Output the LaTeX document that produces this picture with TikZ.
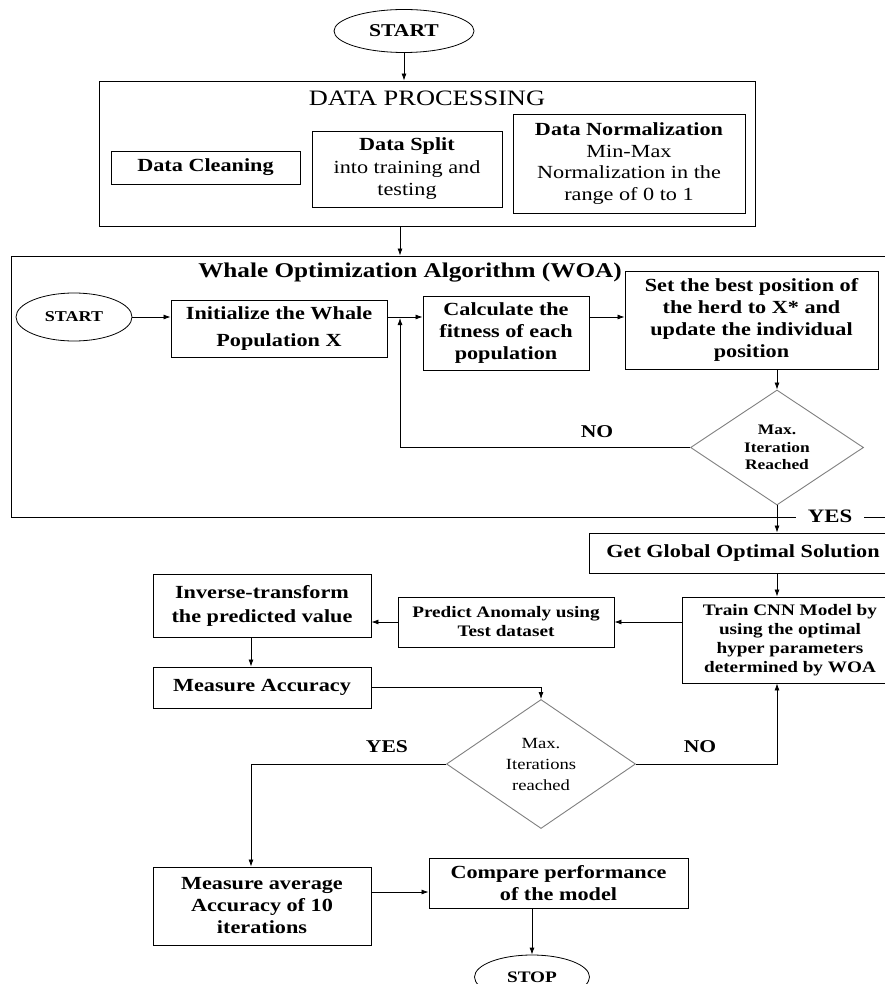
\documentclass[tikz,border=0pt]{standalone}
\usepackage{fontspec}
\setmainfont{Liberation Serif}[FakeStretch=1.2]
\usetikzlibrary{shapes.geometric,arrows.meta,calc}
\begin{document}
\begin{tikzpicture}[x=1pt,y=-1pt,
  line/.style={draw=black, line width=0.8pt},
  arr/.style={line, -{Latex[length=7pt,width=5pt]}},
  rbox/.style={draw=black, line width=0.9pt, rectangle, align=center, inner sep=0pt},
  bigfont/.style={font=\fontsize{18.5}{22}\selectfont\bfseries},
  smallfont/.style={font=\fontsize{16}{19}\selectfont\bfseries},
  oval/.style={draw=black, line width=0.8pt, ellipse, inner sep=0pt},
  dia/.style={draw=gray, line width=0.9pt, diamond, aspect=1.5, inner sep=0pt, align=center},
  lbl/.style={inner sep=0pt, font=\fontsize{18}{20}\selectfont\bfseries}
]
\useasboundingbox (0,0) rectangle (885,984);
\clip (0,0) rectangle (885,984);
\fill[white] (0,0) rectangle (885,984);

% top start
\node[oval, minimum width=140, minimum height=43, font=\fontsize{18}{20}\selectfont\bfseries] (startA) at (404,31) {START};

% data processing
\node[rbox, minimum width=656, minimum height=145] (dp) at (427,153.5) {};
\node[inner sep=0pt, font=\fontsize{22}{24}\selectfont] (dptitle) at (427,98) {DATA PROCESSING};
\node[rbox, bigfont, minimum width=189, minimum height=33] (clean) at (205.5,167.5) {Data Cleaning};
\node[rbox, minimum width=190, minimum height=76, font=\fontsize{18.5}{22.5}\selectfont] (split) at (407,169) {\textbf{Data Split}\\into training and\\testing};
\node[rbox, minimum width=232, minimum height=99, font=\fontsize{18.5}{21.7}\selectfont] (norm) at (629,163.5) {\textbf{Data Normalization}\\Min-Max\\Normalization in the\\range of 0 to 1};

% WOA container
\node[rbox, minimum width=886, minimum height=261] (woa) at (454,386.5) {};
\node[inner sep=0pt, font=\fontsize{21}{24}\selectfont\bfseries] (woatitle) at (410,273) {Whale Optimization Algorithm (WOA)};

\node[oval, minimum width=116, minimum height=48, font=\fontsize{15}{18}\selectfont\bfseries] (startB) at (74,317) {START};
\node[rbox, minimum width=216, minimum height=57, font=\fontsize{18.5}{27}\selectfont\bfseries] (init) at (279,328.5) {Initialize the Whale\\Population X};
\node[rbox, bigfont, minimum width=166, minimum height=74] (calc) at (506,333) {Calculate the\\fitness of each\\population};
\node[rbox, bigfont, minimum width=253, minimum height=98] (set) at (751.5,320) {Set the best position of\\the herd to X* and\\update the individual\\position};
\node[dia, minimum width=173, minimum height=115, font=\fontsize{14.5}{17.5}\selectfont\bfseries] (d1) at (777,447.5) {Max.\\Iteration\\Reached};

\coordinate (axis) at (400,0);
\coordinate (col) at (777,0);
\coordinate (loop) at (400,318);

\node[lbl] (no1) at (597,432) {NO};
\node[lbl, fill=white, inner xsep=12pt, inner ysep=3pt, font=\fontsize{19}{21}\selectfont\bfseries] (yes1) at (830,516) {YES};

% lower part
\node[rbox, bigfont, minimum width=308, minimum height=40] (get) at (743,553) {Get Global Optimal Solution};
\node[rbox, smallfont, minimum width=216, minimum height=86] (train) at (790,640) {Train CNN Model by\\using the optimal\\hyper parameters\\determined by WOA};
\node[rbox, smallfont, minimum width=216, minimum height=50] (predict) at (506,622) {Predict Anomaly using\\Test dataset};
\node[rbox, minimum width=218, minimum height=63, font=\fontsize{18.5}{24}\selectfont\bfseries] (inverse) at (262,605.5) {Inverse-transform\\the predicted value};
\node[rbox, bigfont, minimum width=218, minimum height=41] (acc) at (262,687.5) {Measure Accuracy};
\node[dia, minimum width=189, minimum height=129, font=\fontsize{15.5}{21}\selectfont] (d2) at (541,764) {Max.\\Iterations\\reached};
\node[lbl] (yes2) at (387,747) {YES};
\node[lbl] (no2) at (700,747) {NO};
\node[rbox, bigfont, minimum width=218, minimum height=78] (avg) at (262,906) {Measure average\\Accuracy of 10\\iterations};
\node[rbox, bigfont, minimum width=259, minimum height=50] (compare) at (558.5,883) {Compare performance\\of the model};
\node[oval, minimum width=115, minimum height=44, font=\fontsize{16}{18}\selectfont\bfseries] (stop) at (532,977) {STOP};

% connectors
\draw[arr] (startA.south) -- (startA.south |- dp.north);
\draw[arr] (axis |- dp.south) -- (axis |- woa.north);
\draw[arr] (startB.east) -- (init.west |- startB.east);
\draw[arr] (init.east |- startB.east) -- (calc.west |- startB.east);
\draw[arr] (calc.east |- startB.east) -- (set.west |- startB.east);
\draw[arr] (col |- set.south) -- (d1.north);
\draw[arr] (d1.west) -| (loop);
\draw[arr] (d1.south) -- (col |- get.north);
\draw[arr] (col |- get.south) -- (col |- train.north);
\draw[arr] (train.west |- predict.center) -- (predict.east);
\draw[arr] (predict.west) -- (inverse.east |- predict.west);
\draw[arr] ([xshift=-11pt]inverse.south) -- ([xshift=-11pt]acc.north);
\draw[arr] (acc.east) -| (d2.north);
\draw[arr] (d2.east) -| (col |- train.south);
\draw[arr] (d2.west) -| ([xshift=-11pt]avg.north);
\draw[arr] ([yshift=14pt]avg.east) -- ([yshift=-9pt]compare.west);
\draw[arr] (stop.north |- compare.south) -- (stop.north);
\end{tikzpicture}
\end{document}
